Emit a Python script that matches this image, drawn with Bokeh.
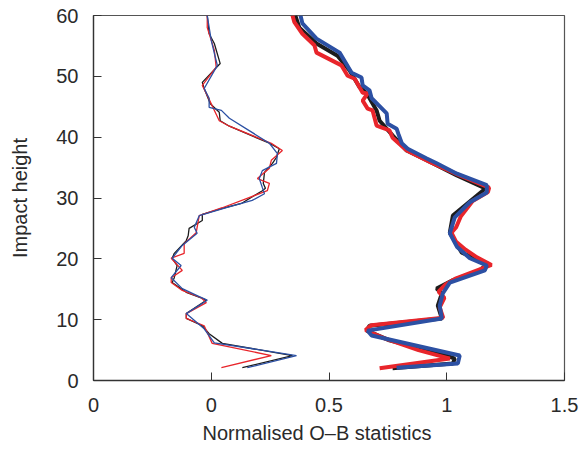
from bokeh.plotting import figure
from bokeh.models import FixedTicker, Range1d, Title
from bokeh.embed import file_html
from bokeh.resources import INLINE

# Mean profiles (thin lines)
mean_black_x = [0.132, 0.345, 0.047, -0.009, -0.038, -0.106, -0.106, -0.021, -0.043, -0.106, -0.166, -0.157, -0.145, -0.166, -0.157, -0.106, -0.098, -0.094, -0.038, -0.038, 0.047, 0.128, 0.217, 0.23, 0.221, 0.226, 0.26, 0.277, 0.289, 0.247, 0.077, 0.038, 0.034, -0.004, -0.03, -0.038, 0.038, 0.013, -0.009, -0.017]
mean_black_y = [2.1, 4.1, 6.1, 7.7, 9.0, 10.2, 11.0, 13.2, 13.6, 14.5, 16.1, 16.9, 18.9, 20.1, 20.9, 23.0, 23.8, 25.0, 26.3, 27.3, 28.3, 29.1, 31.2, 31.6, 32.4, 34.2, 35.7, 36.7, 38.1, 39.0, 41.8, 42.7, 44.1, 45.5, 48.0, 49.0, 52.1, 55.4, 57.0, 60.0]

mean_red_x = [0.043, 0.255, 0.004, -0.03, -0.106, -0.106, -0.021, -0.043, -0.123, -0.17, -0.17, -0.123, -0.17, -0.115, -0.115, -0.064, -0.051, 0.047, 0.238, 0.247, 0.196, 0.247, 0.255, 0.302, 0.255, 0.077, 0.034, -0.021, -0.038, 0.021, 0.013, -0.017, -0.017]
mean_red_y = [2.1, 4.1, 6.1, 9.0, 10.2, 11.0, 12.8, 13.6, 14.8, 16.1, 16.9, 18.1, 20.1, 20.9, 22.5, 24.3, 27.1, 28.4, 31.2, 32.4, 33.2, 34.9, 36.2, 37.8, 39.0, 41.8, 42.7, 47.2, 48.5, 51.5, 54.3, 58.0, 60.0]

mean_blue_x = [0.153, 0.362, 0.013, -0.03, -0.106, -0.017, -0.051, -0.123, -0.17, -0.128, -0.166, -0.123, -0.06, -0.072, -0.051, 0.064, 0.174, 0.226, 0.217, 0.204, 0.217, 0.277, 0.281, 0.247, 0.077, 0.043, -0.009, -0.009, -0.03, 0.026, 0.013, 0.0, -0.017]
mean_blue_y = [2.1, 4.1, 6.2, 8.5, 11.0, 13.2, 13.8, 15.1, 16.9, 18.9, 20.1, 22.2, 24.2, 25.2, 27.1, 28.4, 29.6, 30.7, 31.7, 33.2, 34.5, 35.7, 37.3, 39.0, 43.1, 44.4, 44.9, 46.4, 48.0, 51.8, 53.8, 55.9, 60.0]

# Standard deviation profiles (thick lines)
std_black_x = [0.77, 1.026, 1.034, 1.0, 0.757, 0.66, 0.672, 0.979, 0.962, 0.979, 0.957, 1.021, 1.14, 1.174, 1.064, 1.013, 1.026, 1.153, 1.162, 1.043, 0.915, 0.83, 0.77, 0.715, 0.702, 0.66, 0.63, 0.587, 0.536, 0.447, 0.374, 0.357]
std_black_y = [2.0, 2.8, 3.6, 4.1, 6.6, 8.2, 9.0, 10.2, 12.3, 14.3, 15.1, 16.4, 18.1, 19.2, 21.0, 24.3, 27.1, 31.2, 31.6, 33.7, 36.2, 37.8, 40.3, 42.7, 44.4, 47.2, 48.2, 51.0, 53.4, 55.4, 58.0, 60.0]

std_red_x = [0.715, 1.013, 0.88, 0.73, 0.655, 0.68, 0.985, 0.97, 0.99, 0.965, 0.995, 1.04, 1.19, 1.13, 1.08, 1.04, 1.02, 1.04, 1.06, 1.11, 1.175, 1.18, 1.05, 0.93, 0.83, 0.77, 0.757, 0.702, 0.685, 0.664, 0.643, 0.664, 0.643, 0.609, 0.579, 0.553, 0.447, 0.438, 0.387, 0.353, 0.345]
std_red_y = [2.0, 3.6, 5.0, 7.0, 8.3, 9.1, 10.3, 12.0, 13.6, 14.6, 15.8, 16.8, 19.0, 20.2, 21.5, 22.8, 24.3, 25.2, 27.0, 29.5, 31.0, 31.7, 33.8, 35.9, 37.8, 39.9, 41.1, 41.9, 44.4, 44.7, 46.0, 47.2, 47.3, 49.6, 50.1, 51.8, 53.9, 55.1, 57.0, 58.9, 60.0]

std_blue_x = [0.787, 1.047, 1.055, 0.681, 0.664, 0.979, 0.97, 0.983, 1.013, 1.162, 1.17, 1.098, 1.06, 1.043, 1.013, 1.034, 1.098, 1.17, 1.17, 1.043, 0.957, 0.915, 0.834, 0.809, 0.795, 0.787, 0.749, 0.745, 0.681, 0.672, 0.643, 0.638, 0.596, 0.545, 0.447, 0.387, 0.379]
std_blue_y = [2.1, 2.8, 4.1, 7.4, 8.2, 10.2, 12.3, 14.3, 16.1, 18.1, 18.9, 20.1, 21.4, 22.0, 24.2, 26.8, 29.3, 30.9, 32.1, 34.0, 35.7, 36.5, 38.1, 39.0, 40.5, 41.4, 42.2, 43.9, 46.4, 47.7, 48.5, 49.8, 50.6, 53.9, 56.2, 58.7, 60.0]

x_ticks = [-0.5, 0, 0.5, 1, 1.5]
x_tick_labels = ["0", "0", "0.5", "1", "1.5"]
y_ticks = [0, 10, 20, 30, 40, 50, 60]

BLACK = "#1c1c1c"
RED = "#e8252b"
BLUE = "#2c50a3"
FONT = "Liberation Sans"

p = figure(width=579, height=452, output_backend="svg", toolbar_location=None,
           x_range=Range1d(-0.5, 1.5), y_range=Range1d(0, 60),
           min_border_left=93, min_border_right=15, min_border_top=15, min_border_bottom=72)

p.xgrid.visible = False
p.ygrid.visible = False
p.background_fill_color = "white"
p.border_fill_color = "white"
p.outline_line_color = "#555555"
p.outline_line_width = 1.2

for ax in (p.xaxis[0], p.yaxis[0]):
    ax.major_label_text_font = FONT
    ax.major_label_text_font_size = "20px"
    ax.major_label_text_color = "#2a2a2a"
    ax.axis_label_text_font = FONT
    ax.axis_label_text_font_size = "20px"
    ax.axis_label_text_font_style = "normal"
    ax.axis_label_text_color = "#2a2a2a"
    ax.major_tick_in = 8
    ax.major_tick_out = 0
    ax.minor_tick_in = 0
    ax.minor_tick_out = 0
    ax.axis_line_color = "#333333"
    ax.major_tick_line_color = "#333333"
    ax.axis_line_width = 1.3

p.xaxis.ticker = FixedTicker(ticks=x_ticks)
p.xaxis.major_label_overrides = {t: l for t, l in zip(x_ticks, x_tick_labels)}
p.xaxis.major_label_standoff = 17

xlabel = Title(text="Normalised O\u2013B statistics", align="left", offset=109,
               text_font=FONT, text_font_size="20px", text_font_style="normal",
               text_color="#2a2a2a", standoff=10)
p.add_layout(xlabel, "below")

p.yaxis.ticker = FixedTicker(ticks=y_ticks)
p.yaxis.axis_label = "Impact height"
p.yaxis.major_label_standoff = 15
p.yaxis.axis_label_standoff = 22

p.line(mean_black_x, mean_black_y, line_color=BLACK, line_width=1.3)
p.line(mean_red_x, mean_red_y, line_color=RED, line_width=1.3)
p.line(mean_blue_x, mean_blue_y, line_color=BLUE, line_width=1.3)

p.line(std_black_x, std_black_y, line_color=BLACK, line_width=4)
p.line(std_red_x, std_red_y, line_color=RED, line_width=4)
p.line(std_blue_x, std_blue_y, line_color=BLUE, line_width=4)

open("out.html", "w").write(file_html(p, INLINE))
